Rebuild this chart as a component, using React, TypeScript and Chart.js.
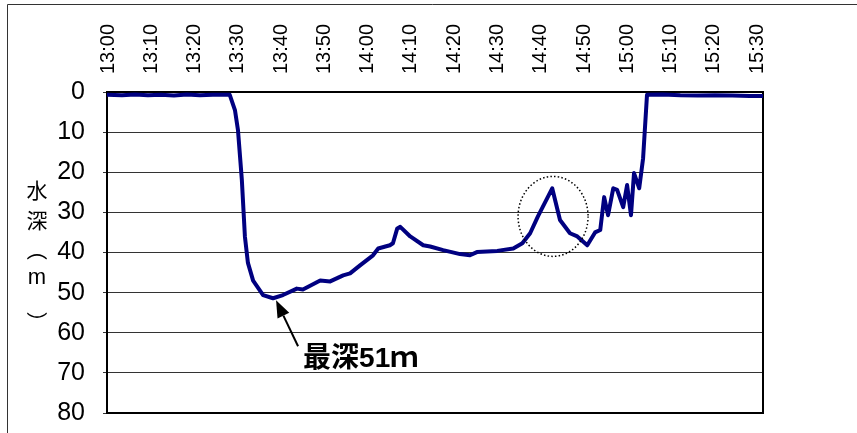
import React, { useEffect, useRef } from 'react';
import { Chart, registerables } from 'chart.js';

Chart.register(...registerables);

// ---- data ----
const TIME_LABELS = ['13:00', '13:10', '13:20', '13:30', '13:40', '13:50', '14:00', '14:10', '14:20', '14:30', '14:40', '14:50', '15:00', '15:10', '15:20', '15:30'];
const TICK_MINUTES = [0, 10, 20, 30, 40, 50, 60, 70, 80, 90, 100, 110, 120, 130, 140, 150];
const DEPTH_TICKS = [0, 10, 20, 30, 40, 50, 60, 70, 80];

// minutes after 13:00
const DEPTH_TIMES = [
  -0.46, 3, 6, 9, 12, 15, 18, 21, 24, 27.9,
  29.1, 29.8, 30.7, 31.4, 32.1, 33.3, 35.6, 37.9, 40.2, 43.4,
  44.8, 48.8, 51.1, 54.1, 55.7, 58.0, 61.0, 62.2, 64.9, 65.6,
  66.6, 67.3, 69.6, 72.6, 74.2, 77.2, 81.1, 83.4, 85.0, 89.7,
  93.4, 95.5, 97.3, 99.1, 102.4, 104.2, 106.5, 108.2, 110.5, 112.3,
  113.5, 114.4, 115.3, 116.5, 117.4, 118.8, 119.7, 120.6, 121.3, 122.5,
  123.4, 124.3, 128, 132, 136, 140, 144, 148, 151.1,
];
// depth in metres
const DEPTH_VALUES = [
  0.7, 0.8, 0.6, 0.8, 0.7, 0.9, 0.6, 0.8, 0.7, 0.7,
  4.5, 9.5, 22, 36, 42.6, 47, 50.6, 51.4, 50.6, 49,
  49.2, 47, 47.2, 45.7, 45.2, 43.2, 40.7, 39, 38.2, 37.7,
  34, 33.6, 36, 38.2, 38.5, 39.4, 40.4, 40.7, 39.9, 39.6,
  39, 37.7, 35.2, 31, 24, 31.9, 35.2, 36, 38.2, 35,
  34.4, 26.2, 30.7, 24, 24.4, 28.7, 23.2, 30.7, 20.2, 24,
  16.5, 0.7, 0.6, 0.8, 0.9, 0.8, 0.9, 1.0, 1.0,
];

const X_MIN = -0.46;
const X_MAX = 151.1;

const Y_TITLE_CHARS = ['水', '深', '（', 'm', '）'];
const ANNOTATION_TEXT = '最深51ｍ';
const DEEPEST_MARK = { t: 38.6, v: 51.9 };
const PEAK_MARK = { t: 102.6, v: 31 };

const LATIN = '"Liberation Sans", Arial, sans-serif';
const CJK = '"Noto Sans CJK JP", "Noto Sans CJK SC", sans-serif';

const decorPlugin = {
  id: 'decor',
  beforeDatasetsDraw(chart: any) {
    const { ctx, chartArea } = chart;
    ctx.save();
    ctx.strokeStyle = '#000';
    ctx.lineWidth = 2;
    ctx.strokeRect(chartArea.left, chartArea.top, chartArea.right - chartArea.left, chartArea.bottom - chartArea.top);
    ctx.restore();
  },
  afterDraw(chart: any) {
    const { ctx } = chart;
    const xs = chart.scales.x;
    const ys = chart.scales.y;
    ctx.save();

    // outer frame (top & left)
    ctx.strokeStyle = '#333';
    ctx.lineWidth = 1;
    ctx.beginPath();
    ctx.moveTo(7.5, 433);
    ctx.lineTo(7.5, 4.5);
    ctx.lineTo(857, 4.5);
    ctx.stroke();

    // vertical y-axis title
    ctx.fillStyle = '#000';
    ctx.textAlign = 'center';
    ctx.textBaseline = 'middle';
    const cx = 37;
    const cys = [190, 220, 250, 278, 322];
    Y_TITLE_CHARS.forEach((ch, i) => {
      if (ch === '（' || ch === '）') {
        ctx.save();
        ctx.translate(cx, cys[i]);
        ctx.rotate(Math.PI / 2);
        ctx.font = '21px ' + CJK;
        ctx.fillText(ch, 0, 0);
        ctx.restore();
      } else if (ch === 'm') {
        ctx.font = '22px ' + LATIN;
        ctx.fillText(ch, cx, cys[i]);
      } else {
        ctx.font = '21px ' + CJK;
        ctx.fillText(ch, cx, cys[i]);
      }
    });

    // dotted circle around the peak
    const px = xs.getPixelForValue(PEAK_MARK.t);
    const py = ys.getPixelForValue(PEAK_MARK.v);
    ctx.strokeStyle = '#000';
    ctx.lineWidth = 1.5;
    ctx.setLineDash([1.5, 2.2]);
    ctx.beginPath();
    ctx.ellipse(px, py, 35, 40, 0, 0, Math.PI * 2);
    ctx.stroke();
    ctx.setLineDash([]);

    // arrow to deepest point
    const tx = xs.getPixelForValue(DEEPEST_MARK.t);
    const ty = ys.getPixelForValue(DEEPEST_MARK.v);
    const sx = tx + 22;
    const sy = ty + 46;
    const ang = Math.atan2(ty - sy, tx - sx);
    const headLen = 17;
    const headHalf = 6.5;
    const bx = tx - Math.cos(ang) * headLen;
    const by = ty - Math.sin(ang) * headLen;
    ctx.strokeStyle = '#000';
    ctx.lineWidth = 2;
    ctx.beginPath();
    ctx.moveTo(sx, sy);
    ctx.lineTo(bx, by);
    ctx.stroke();
    ctx.fillStyle = '#000';
    ctx.beginPath();
    ctx.moveTo(tx, ty);
    ctx.lineTo(bx + Math.sin(ang) * headHalf, by - Math.cos(ang) * headHalf);
    ctx.lineTo(bx - Math.sin(ang) * headHalf, by + Math.cos(ang) * headHalf);
    ctx.closePath();
    ctx.fill();

    // annotation text
    ctx.font = 'bold 28px "Liberation Sans", Arial, ' + CJK;
    ctx.textAlign = 'left';
    ctx.textBaseline = 'alphabetic';
    ctx.fillText(ANNOTATION_TEXT, tx + 27, ty + 67);

    ctx.restore();
  },
};

export default function App() {
  const canvasRef = useRef<HTMLCanvasElement | null>(null);

  useEffect(() => {
    const canvas = canvasRef.current;
    if (!canvas) return;
    const chart = new Chart(canvas, {
      type: 'line',
      data: {
        datasets: [
          {
            data: DEPTH_TIMES.map((t, i) => ({ x: t, y: DEPTH_VALUES[i] })),
            borderColor: '#000080',
            borderWidth: 4,
            pointRadius: 0,
            tension: 0,
            fill: false,
            borderJoinStyle: 'round',
            borderCapStyle: 'round',
          },
        ],
      },
      options: {
        responsive: false,
        animation: false,
        events: [],
        layout: { padding: { left: 0, top: 0, right: 94, bottom: 20 } },
        plugins: { legend: { display: false }, tooltip: { enabled: false } },
        scales: {
          x: {
            type: 'linear',
            position: 'top',
            min: X_MIN,
            max: X_MAX,
            afterBuildTicks: (s: any) => {
              s.ticks = TICK_MINUTES.map((v) => ({ value: v }));
            },
            afterFit: (s: any) => {
              s.height = 92;
              s.paddingLeft = 0;
              s.paddingRight = 0;
            },
            grid: { display: false, drawTicks: false },
            border: { display: false },
            ticks: {
              autoSkip: false,
              minRotation: 90,
              maxRotation: 90,
              padding: 18,
              labelOffset: 23,
              color: '#000',
              font: { family: LATIN, size: 20 },
              callback: (v: any) => {
                const i = TICK_MINUTES.indexOf(Number(v));
                return i >= 0 ? TIME_LABELS[i] : '';
              },
            },
          },
          y: {
            type: 'linear',
            reverse: true,
            min: 0,
            max: 80,
            afterBuildTicks: (s: any) => {
              s.ticks = DEPTH_TICKS.map((v) => ({ value: v }));
            },
            afterFit: (s: any) => {
              s.width = 107;
              s.paddingTop = 0;
              s.paddingBottom = 0;
            },
            grid: { color: '#333', lineWidth: 1, drawTicks: true, tickLength: 4 },
            border: { display: false },
            ticks: {
              padding: 18,
              color: '#000',
              font: { family: LATIN, size: 25 },
              callback: (v: any) => String(v),
            },
          },
        },
      },
      plugins: [decorPlugin],
    });
    return () => chart.destroy();
  }, []);

  return (
    <div style={{ position: 'absolute', left: 0, top: 0, width: 857, height: 433, background: '#fff' }}>
      <canvas ref={canvasRef} width={857} height={433} style={{ display: 'block', width: 857, height: 433 }} />
    </div>
  );
}
